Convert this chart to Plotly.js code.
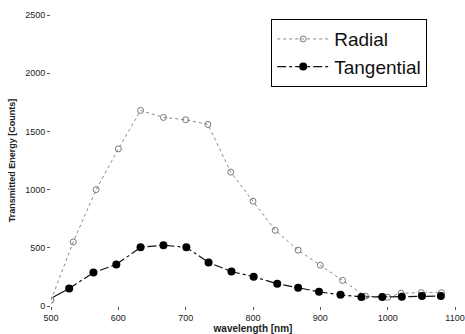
<!DOCTYPE html>
<html><head><meta charset="utf-8">
<script src="https://cdn.plot.ly/plotly-3.0.1.min.js"></script>
<style>html,body{margin:0;padding:0;background:#fff}#c{width:465px;height:334px}</style>
</head><body><div id="c"></div>
<script>
var wavelength = [500, 533, 567, 600, 633, 667, 700, 733, 767, 800, 833, 867, 900, 933, 967, 1000, 1020, 1050, 1080];
var radial     = [50, 550, 1000, 1350, 1680, 1620, 1600, 1560, 1150, 900, 650, 480, 350, 220, 85, 75, 110, 115, 115];
var wlTang     = [503, 527, 563, 597, 633, 667, 701, 734, 768, 801, 836, 867, 898, 930, 961, 992, 1021, 1051, 1079];
var tangential = [75, 150, 287, 357, 504, 522, 504, 374, 296, 252, 191, 157, 122, 96, 78, 78, 80, 85, 85];
var xTicks = [500, 600, 700, 800, 900, 1000, 1100];
var yTicks = [0, 500, 1000, 1500, 2000, 2500];

var font = {family: 'Liberation Sans, Arial, sans-serif', color: '#222', size: 9};
var traces = [
  {x: wavelength, y: radial, name: 'Radial', mode: 'lines+markers',
   line: {color: '#8a8a8a', width: 1, dash: 'dot'},
   marker: {symbol: 'circle-open', size: 6, color: '#777', line: {width: 1}}},
  {x: wlTang.slice(0, 2), y: tangential.slice(0, 2), mode: 'lines', showlegend: false,
   line: {color: '#111', width: 1.2}},
  {x: wlTang.slice(1), y: tangential.slice(1), name: 'Tangential', mode: 'lines+markers',
   line: {color: '#111', width: 1.2, dash: 'dashdot'},
   marker: {symbol: 'circle', size: 8, color: '#000'}}
];
var layout = {
  width: 465, height: 334,
  margin: {l: 51, r: 10, t: 15, b: 28},
  paper_bgcolor: '#fff', plot_bgcolor: '#fff',
  font: font,
  showlegend: true,
  legend: {x: 0.545, y: 0.986, xanchor: 'left', yanchor: 'top',
           bordercolor: '#000', borderwidth: 1, bgcolor: '#fff',
           itemwidth: 52,
           font: {family: 'Liberation Sans, Arial, sans-serif', size: 19, color: '#111'},
           tracegroupgap: 0},
  xaxis: {range: [500, 1100], tickvals: xTicks, ticktext: xTicks.map(String),
          showgrid: false, zeroline: false, showline: false,
          ticks: 'outside', ticklen: 3, tickcolor: '#555',
          tickfont: font,
          title: {text: '<b>wavelength [nm]</b>', font: {size: 10, color: '#222', family: 'Liberation Sans, Arial, sans-serif'}, standoff: 0}},
  yaxis: {range: [0, 2500], tickvals: yTicks, ticktext: yTicks.map(String),
          showgrid: false, zeroline: false, showline: false,
          ticks: 'outside', ticklen: 3, tickcolor: '#555',
          tickfont: font,
          title: {text: '<b>Transmitted Energy [Counts]</b>', font: {size: 9, color: '#222', family: 'Liberation Sans, Arial, sans-serif'}, standoff: 8}}
};
Plotly.newPlot('c', traces, layout, {displayModeBar: false, staticPlot: true});
</script></body></html>
